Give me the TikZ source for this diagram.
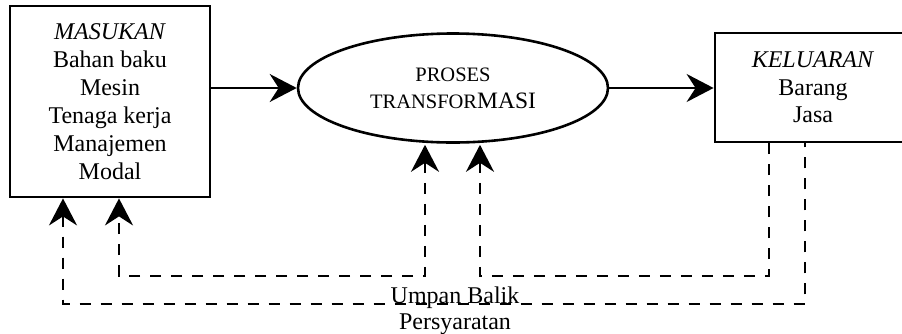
\documentclass[tikz,border=0pt]{standalone}
\usepackage{fontspec}
\setmainfont{Liberation Serif}
\usetikzlibrary{arrows.meta,shapes.geometric}
\begin{document}
\begin{tikzpicture}[x=1pt,y=-1pt,
  tip/.tip={Stealth[length=27pt,width=28pt,inset=9pt]},
  boxnode/.style={draw,line width=2.8pt,inner sep=0pt,align=center,
    font=\fontsize{24}{28}\selectfont},
  arr/.style={line width=2.6pt,-tip},
  fb/.style={line width=2.5pt,dash pattern=on 11pt off 10pt,tip-},
  fb2/.style={line width=2.5pt,dash pattern=on 11pt off 10pt,tip-tip},
  lbl/.style={inner sep=0pt,font=\fontsize{24}{28}\selectfont}]
\clip (0,0) rectangle (902,333);
\fill[white] (0,0) rectangle (902,333);
\node[boxnode,minimum width=200pt,minimum height=191pt] (in) at (110,101.5)
  {\textit{MASUKAN}\\Bahan baku\\Mesin\\Tenaga kerja\\Manajemen\\Modal};
\node[draw,ellipse,line width=2.6pt,inner sep=0pt,minimum width=310pt,minimum height=109pt,
  align=center,font=\fontsize{20.5}{27}\selectfont] (pr) at (453,88)
  {PROSES\\TRANSFOR{\fontsize{23.5}{27}\selectfont MASI}};
\node[boxnode,minimum width=196pt,minimum height=109pt,font=\fontsize{24}{27.5}\selectfont] (out) at (813,87.5)
  {\textit{KELUARAN}\\Barang\\Jasa};
\draw[arr] (pr.west -| in.east) -- (pr.west);
\draw[arr] (pr.east) -- (pr.east -| out.west);
\coordinate (a1) at (425,276);
\coordinate (a2) at (119,276);
\coordinate (b1) at (769,276);
\coordinate (b2) at (480,276);
\coordinate (c1) at (805,304);
\coordinate (c2) at (63,304);
\draw[fb2] ([yshift=-1pt]pr.south -| a1) -- (a1) -- (a2) -- (in.south -| a2);
\draw[fb] ([yshift=-1pt]pr.south -| b2) -- (b2) -- (b1) -- (out.south -| b1);
\draw[fb] (in.south -| c2) -- (c2) -- (c1) -- (out.south -| c1);
\node[lbl,anchor=base] (ub) at (455,303) {Umpan Balik};
\node[lbl,anchor=base] (ps) at (455,329) {Persyaratan};
\end{tikzpicture}
\end{document}
